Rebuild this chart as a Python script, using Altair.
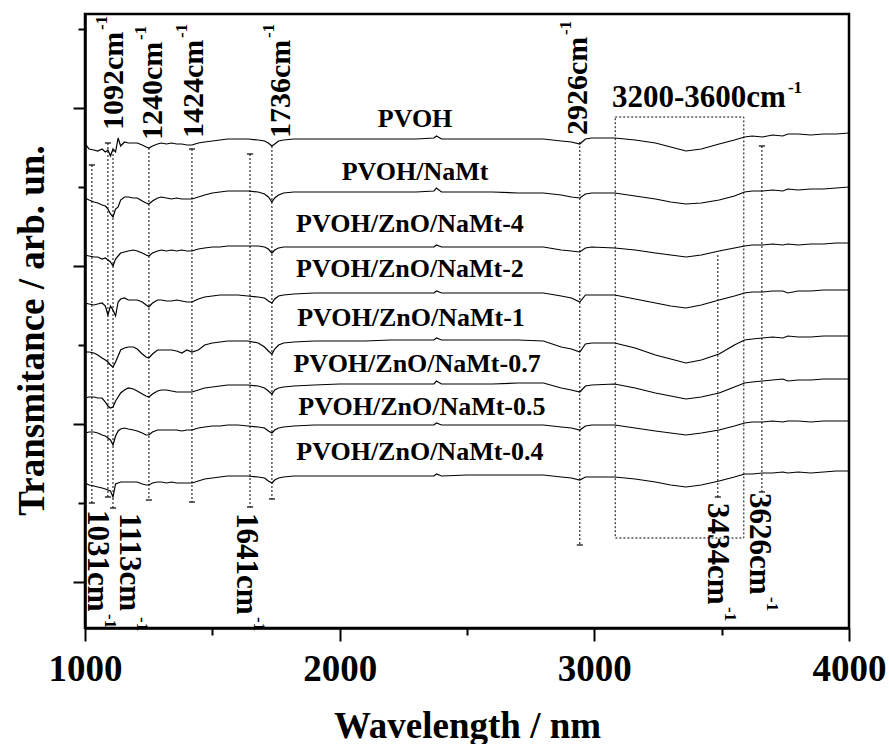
import altair as alt
import pandas as pd

# ---------------- data ----------------
wavenumber = [1000, 1016, 1035, 1050, 1067, 1080, 1090, 1100, 1110, 1120,
              1130, 1140, 1155, 1170, 1190, 1205, 1225, 1240, 1251, 1265,
              1285, 1300, 1320, 1340, 1360, 1380, 1400, 1420, 1445, 1470,
              1500, 1530, 1560, 1600, 1640, 1680, 1705, 1720, 1734, 1745,
              1760, 1780, 1820, 1900, 2000, 2100, 2200, 2300, 2370, 2380,
              2400, 2500, 2600, 2700, 2800, 2870, 2910, 2943, 2965, 2990,
              3080, 3160, 3240, 3300, 3360, 3420, 3490, 3550, 3590, 3620,
              3660, 3700, 3740, 3760, 3800, 3850, 3900, 3950, 4000]

samples = ["PVOH", "PVOH/NaMt", "PVOH/ZnO/NaMt-4", "PVOH/ZnO/NaMt-2",
           "PVOH/ZnO/NaMt-1", "PVOH/ZnO/NaMt-0.7", "PVOH/ZnO/NaMt-0.5",
           "PVOH/ZnO/NaMt-0.4"]

t_pvoh = [484, 479, 478, 477, 479, 476, 478, 472, 479, 476,
          490, 482, 486, 485, 485, 485, 483, 481, 480, 482,
          484, 485, 484, 485, 484, 484, 483, 483, 485, 486,
          487, 488, 489, 489, 489, 488, 487, 485, 482, 484,
          487, 488, 489, 489, 489, 489, 489, 489, 490, 492,
          489, 489, 489, 489, 489, 487, 486, 484, 489, 490,
          490, 488, 485, 481, 477, 479, 484, 488, 491, 492,
          491, 493, 492, 494, 494, 493, 494, 494, 495]
t_namt = [430, 428, 426, 425, 423, 422, 419, 414, 411, 419,
          421, 428, 431, 431, 430, 430, 427, 425, 424, 427,
          430, 431, 430, 429, 430, 429, 429, 429, 431, 433,
          435, 436, 437, 437, 437, 436, 434, 431, 426, 430,
          433, 435, 436, 436, 436, 436, 436, 436, 437, 440,
          436, 436, 436, 435, 435, 433, 431, 430, 434, 435,
          435, 432, 429, 426, 424, 425, 428, 432, 436, 437,
          437, 438, 437, 439, 438, 439, 439, 440, 441]
t_zn4 = [373, 372, 371, 371, 369, 370, 368, 366, 362, 369,
         372, 375, 376, 377, 378, 377, 375, 373, 372, 375,
         377, 378, 377, 378, 377, 378, 377, 377, 379, 380,
         381, 381, 382, 382, 382, 382, 381, 379, 375, 378,
         380, 381, 381, 381, 381, 381, 381, 381, 381, 383,
         381, 381, 381, 381, 381, 378, 377, 376, 380, 381,
         380, 378, 375, 373, 371, 373, 377, 380, 382, 383,
         383, 384, 383, 384, 383, 384, 384, 385, 385]
t_zn2 = [325, 324, 323, 324, 325, 322, 313, 322, 318, 312,
         326, 329, 330, 328, 328, 328, 326, 323, 321, 325,
         328, 328, 327, 327, 328, 327, 326, 326, 329, 331,
         332, 333, 333, 333, 332, 331, 330, 327, 325, 329,
         332, 333, 334, 335, 335, 335, 335, 335, 335, 337,
         335, 335, 335, 335, 335, 332, 330, 326, 333, 333,
         333, 329, 325, 322, 320, 323, 328, 332, 335, 336,
         336, 337, 337, 335, 337, 337, 338, 338, 338]
t_zn1 = [276, 276, 275, 273, 270, 268, 266, 263, 261, 266,
         272, 278, 280, 281, 281, 279, 274, 271, 270, 274,
         278, 278, 278, 278, 277, 275, 278, 276, 278, 283,
         285, 286, 287, 287, 287, 285, 281, 277, 274, 279,
         283, 285, 286, 287, 287, 287, 288, 288, 288, 290,
         288, 288, 288, 288, 287, 281, 279, 276, 284, 285,
         285, 280, 273, 269, 265, 268, 274, 283, 288, 289,
         290, 291, 290, 292, 291, 291, 292, 292, 292]
t_zn07 = [230, 231, 231, 230, 230, 226, 222, 220, 221, 227,
          231, 235, 238, 240, 239, 237, 234, 232, 231, 234,
          237, 238, 238, 237, 236, 236, 236, 236, 238, 240,
          241, 242, 243, 243, 243, 242, 240, 237, 234, 238,
          240, 241, 242, 243, 244, 244, 244, 244, 244, 247,
          244, 244, 244, 245, 245, 240, 238, 236, 242, 243,
          244, 240, 235, 232, 229, 231, 235, 241, 245, 246,
          247, 248, 249, 247, 248, 248, 249, 249, 249]
t_zn05 = [195, 196, 196, 195, 193, 192, 190, 188, 183, 192,
          197, 199, 200, 199, 198, 197, 195, 193, 193, 196,
          198, 198, 198, 198, 198, 197, 198, 198, 200, 201,
          202, 202, 203, 203, 202, 201, 200, 197, 195, 198,
          200, 201, 202, 203, 203, 203, 203, 203, 203, 205,
          203, 203, 203, 203, 203, 201, 200, 198, 202, 203,
          203, 200, 197, 195, 193, 195, 198, 202, 205, 206,
          206, 207, 206, 207, 207, 206, 207, 207, 207]
t_zn04 = [145, 143, 142, 141, 140, 139, 138, 137, 131, 144,
          145, 146, 146, 146, 146, 146, 144, 143, 143, 145,
          146, 146, 145, 146, 145, 145, 145, 145, 147, 149,
          150, 151, 152, 152, 152, 151, 150, 147, 145, 148,
          150, 151, 152, 152, 152, 152, 152, 152, 152, 154,
          152, 153, 153, 153, 153, 151, 150, 148, 151, 151,
          151, 149, 146, 143, 141, 143, 147, 151, 154, 154,
          155, 155, 156, 155, 156, 155, 156, 157, 157]

series = [t_pvoh, t_namt, t_zn4, t_zn2, t_zn1, t_zn07, t_zn05, t_zn04]

# sample label anchors (data coordinates)
sample_label_x = [2296, 2296, 2276, 2276, 2280, 2304, 2323, 2315]
sample_label_y = [501, 448, 396, 351, 302, 256, 213, 168]

# peak annotations
peak_text = ["1031cm", "1092cm", "1113cm", "1240cm", "1424cm",
             "1641cm", "1736cm", "2926cm", "3434cm", "3626cm"]
peak_line_x = [1027, 1090, 1110, 1251, 1420, 1648, 1734, 2943, 3485, 3658]
peak_line_top = [463, 485, 478, 480, 479, 474, 482, 486, 373, 482]
peak_line_bottom = [125, 131, 120, 128, 126, 121, 129, 83, 131, 136]
peak_cap_top = [True, True, False, False, True, True, False, False, False, True]
peak_side = ["bottom", "top", "bottom", "top", "top", "bottom", "top", "top",
             "bottom", "bottom"]
peak_label_x = [1012, 1149, 1137, 1302, 1463, 1597, 1805, 2971, 3446, 3611]
peak_label_y = [118, 498, 115, 488, 490, 115, 490, 493, 125, 135]

band_text = ["3200-3600cm"]
band_x = [3082]
band_x2 = [3587]
band_y = [90]
band_y2 = [511]
band_label_x = [3069]
band_label_y = [521]

superscript = "-1"

x_ticks = [1000, 1500, 2000, 2500, 3000, 3500, 4000]
y_ticks = [46, 125, 204, 283, 362, 441, 520, 599]

# ---------------- tables ----------------
rows = []
for name, vals in zip(samples, series):
    for w, v in zip(wavenumber, vals):
        rows.append({"sample": name, "x": w, "y": v})
spec_df = pd.DataFrame(rows)

lab_df = pd.DataFrame({"text": samples, "x": sample_label_x, "y": sample_label_y})

ann_df = pd.DataFrame({
    "text": peak_text, "x": peak_line_x, "y": peak_line_top,
    "y2": peak_line_bottom, "captop": peak_cap_top, "side": peak_side,
    "lx": peak_label_x, "ly": peak_label_y,
})
ann_df["cx1"] = ann_df["x"] - 12
ann_df["cx2"] = ann_df["x"] + 12
top_caps = ann_df[ann_df["captop"]]
top_lab = ann_df[ann_df["side"] == "top"]
bot_lab = ann_df[ann_df["side"] == "bottom"]

band_df = pd.DataFrame({"text": band_text, "x": band_x, "x2": band_x2,
                        "y": band_y, "y2": band_y2,
                        "lx": band_label_x, "ly": band_label_y})

# ---------------- scales / axes ----------------
FONT = "Liberation Serif"
xs = alt.Scale(domain=[1000, 4000], nice=False, zero=False)
ys = alt.Scale(domain=[0, 614], nice=False, zero=False)

xaxis = alt.Axis(
    values=x_ticks, format="d",
    labelExpr="datum.value % 1000 == 0 ? datum.label : ''",
    tickSize={"condition": {"test": "datum.value % 1000 == 0", "value": 13}, "value": 7},
    tickWidth=2, tickColor="black", domainColor="black", domainWidth=2.5,
    labelFont=FONT, labelFontSize=37, labelFontWeight="bold", labelColor="black",
    labelPadding=10, labelFlush=False, labelOverlap=False, grid=False,
    title="Wavelength / nm", titleFont=FONT, titleFontSize=37,
    titleFontWeight="bold", titleColor="black",
    titleX=382, titleY=109, titleAlign="center", titleBaseline="alphabetic",
)
yaxis = alt.Axis(
    values=y_ticks, labels=False,
    tickSize={"condition": {"test": "(datum.value - 46) % 158 == 0", "value": 12}, "value": 7},
    tickWidth=2, tickColor="black", domainColor="black", domainWidth=2.5,
    grid=False,
    title="Transmitance / arb. un.", titleFont=FONT, titleFontSize=37,
    titleFontWeight="bold", titleColor="black",
    titleX=-42, titleY=316, titleAngle=270, titleAlign="center",
    titleBaseline="alphabetic",
)


def X(f):
    return alt.X(f, type="quantitative", scale=xs, axis=xaxis)


def Y(f):
    return alt.Y(f, type="quantitative", scale=ys, axis=yaxis)


lines = alt.Chart(spec_df).mark_line(color="black", strokeWidth=1.2).encode(
    x=X("x"), y=Y("y"), detail="sample:N", order="x:Q"
)

sample_labels = alt.Chart(lab_df).mark_text(
    font=FONT, fontSize=26, fontWeight="bold", color="black",
    align="center", baseline="alphabetic"
).encode(x=X("x"), y=Y("y"), text="text:N")

dash = [2, 2]
ann_lines = alt.Chart(ann_df).mark_rule(
    color="black", strokeWidth=1, strokeDash=dash
).encode(x=X("x"), y=Y("y"), y2="y2:Q")

bottom_caps = alt.Chart(ann_df).mark_rule(color="black", strokeWidth=1.2).encode(
    x=X("cx1"), x2="cx2:Q", y=Y("y2")
)
upper_caps = alt.Chart(top_caps).mark_rule(color="black", strokeWidth=1.2).encode(
    x=X("cx1"), x2="cx2:Q", y=Y("y")
)

top_labels = alt.Chart(top_lab).mark_text(
    font=FONT, fontSize=30, fontWeight="bold", color="black",
    angle=270, align="left", baseline="alphabetic"
).encode(x=X("lx"), y=Y("ly"), text="text:N")
top_sup = alt.Chart(top_lab).mark_text(
    font=FONT, fontSize=17, fontWeight="bold", color="black",
    angle=270, align="left", baseline="alphabetic", dx=100, dy=-16
).encode(x=X("lx"), y=Y("ly"), text=alt.value(superscript))

bottom_labels = alt.Chart(bot_lab).mark_text(
    font=FONT, fontSize=31, fontWeight="bold", color="black",
    angle=90, align="left", baseline="alphabetic"
).encode(x=X("lx"), y=Y("ly"), text="text:N")
bottom_sup = alt.Chart(bot_lab).mark_text(
    font=FONT, fontSize=17, fontWeight="bold", color="black",
    angle=90, align="left", baseline="alphabetic", dx=104, dy=-17
).encode(x=X("lx"), y=Y("ly"), text=alt.value(superscript))

band_box = alt.Chart(band_df).mark_rect(
    fillOpacity=0, stroke="black", strokeWidth=1, strokeDash=dash
).encode(x=X("x"), x2="x2:Q", y=Y("y"), y2="y2:Q")

band_label = alt.Chart(band_df).mark_text(
    font=FONT, fontSize=31, fontWeight="bold", color="black",
    align="left", baseline="alphabetic"
).encode(x=X("lx"), y=Y("ly"), text="text:N")
band_sup = alt.Chart(band_df).mark_text(
    font=FONT, fontSize=17, fontWeight="bold", color="black",
    align="left", baseline="alphabetic", dx=176, dy=-14
).encode(x=X("lx"), y=Y("ly"), text=alt.value(superscript))

chart = alt.layer(
    band_box, ann_lines, bottom_caps, upper_caps, lines, sample_labels,
    top_labels, top_sup, bottom_labels, bottom_sup, band_label, band_sup
).properties(
    width=764, height=614,
    autosize=alt.AutoSizeParams(type="none"),
    padding={"left": 85, "top": 14, "right": 40, "bottom": 116},
    background="white",
).configure_view(stroke="black", strokeWidth=2.5)

chart.save("out.html", embed_options={"renderer": "svg", "actions": False})
